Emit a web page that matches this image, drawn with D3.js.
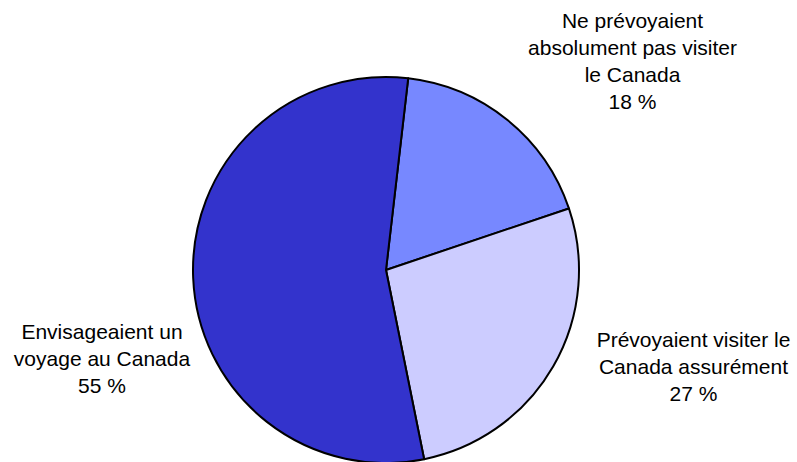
<!DOCTYPE html>
<html>
<head>
<meta charset="utf-8">
<script src="https://cdn.jsdelivr.net/npm/d3@7"></script>
<style>
  body { margin: 0; background: #fff; }
  text { font-family: Arial, "Liberation Sans", sans-serif; fill: #000; }
</style>
</head>
<body>
<div id="chart"></div>
<script>
// data
var categories = ['Ne prévoyaient absolument pas visiter le Canada', 'Prévoyaient visiter le Canada assurément', 'Envisageaient un voyage au Canada'];
var values = [18, 27, 55];
var colors = ['#7788FF', '#CCCCFF', '#3333CC'];
var labelLines = [
	['Ne prévoyaient', 'absolument pas visiter', 'le Canada', '18 %'],
	['Prévoyaient visiter le', 'Canada assurément', '27 %'],
	['Envisageaient un', 'voyage au Canada', '55 %']
];
// label centre x, first baseline y
var labelPos = [[632.5, 28], [693.5, 347], [102, 339]];

var svgWidth = 797;
var svgHeight = 462;
var cx = 386, cy = 270, radius = 193;
var startAngle = 6.6 * Math.PI / 180;

var svg = d3.select('#chart').append('svg')
	.attr('width', svgWidth)
	.attr('height', svgHeight);

var pie = d3.pie()
	.sort(null)
	.startAngle(startAngle)
	.endAngle(startAngle + 2 * Math.PI);

var arc = d3.arc().innerRadius(0).outerRadius(radius);

var chart = svg.append('g').attr('transform', `translate(${cx}, ${cy})`);

chart.selectAll('path')
	.data(pie(values))
	.enter()
	.append('path')
	.attr('d', arc)
	.attr('fill', (d, i) => colors[i])
	.attr('stroke', '#000')
	.attr('stroke-width', 2)
	.attr('stroke-linejoin', 'round');

// labels
labelLines.forEach(function(lines, i) {
	var t = svg.append('text')
		.attr('text-anchor', 'middle')
		.attr('font-size', '21px');
	lines.forEach(function(line, j) {
		t.append('tspan')
			.attr('x', labelPos[i][0])
			.attr('y', labelPos[i][1] + j * 27)
			.text(line);
	});
});
</script>
</body>
</html>
